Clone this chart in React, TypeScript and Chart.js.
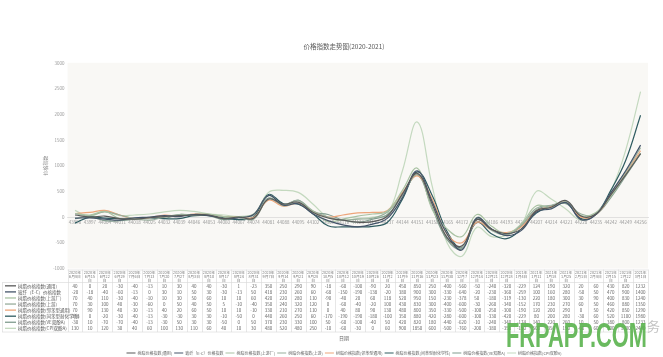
import React, { useEffect, useRef } from "react";
import { Chart, registerables } from "chart.js";

Chart.register(...registerables);

const FONT = "'Noto Sans CJK SC', 'Noto Sans', sans-serif";

// Category labels (Excel date serials shown on the axis)
const serials = [
  "43990", "43997", "44004", "44011", "44018", "44025", "44032", "44039", "44046", "44053",
  "44060", "44067", "44074", "44081", "44088", "44095", "44102", "44109", "44116", "44123",
  "44130", "44137", "44144", "44151", "44158", "44165", "44172", "44179", "44186", "44193",
  "44200", "44207", "44214", "44221", "44228", "44235", "44242", "44249", "44256",
];

// Data-table column headers
const dateHeaders = [
  "2020年6月8日", "2020年6月15日", "2020年6月22日", "2020年6月29日", "2020年7月6日",
  "2020年7月13日", "2020年7月20日", "2020年7月27日", "2020年8月3日", "2020年8月10日",
  "2020年8月17日", "2020年8月24日", "2020年8月31日", "2020年9月7日", "2020年9月14日",
  "2020年9月21日", "2020年9月28日", "2020年10月5日", "2020年10月12日", "2020年10月19日",
  "2020年10月26日", "2020年11月2日", "2020年11月9日", "2020年11月16日", "2020年11月23日",
  "2020年11月30日", "2020年12月7日", "2020年12月14日", "2020年12月21日", "2020年12月28日",
  "2021年1月4日", "2021年1月11日", "2021年1月18日", "2021年1月25日", "2021年2月1日",
  "2021年2月8日", "2021年2月15日", "2021年2月22日", "2021年3月1日",
];

const seriesNames = [
  "树脂价格指数(通用)",
  "玻纤（E-C）价格指数",
  "树脂价格指数(上游厂)",
  "树脂价格指数(上游)",
  "树脂价格指数(邻苯型通用)",
  "树脂价格指数(间苯型耐化学性)",
  "树脂价格指数(VE双酚A)",
  "树脂价格指数(CPI双酚A)",
];

const seriesColors = [
  "#595959",
  "#44546a",
  "#a9c2a3",
  "#98ad9c",
  "#eda57a",
  "#2f5c61",
  "#809c8e",
  "#c4d9bf",
];

const s1 = [40, 0, 20, -30, -40, -13, 10, 30, 40, 40, -30, 1, -23, 350, 250, 290, 90, -18, -60, -100, -90, 20, 450, 850, 250, -400, -560, -50, -240, -320, -229, 124, 190, 320, 20, 60, 430, 820, 1232];
const s2 = [-20, -18, -40, -60, -13, 0, 30, 10, 50, 30, -30, -13, 50, 418, 230, 260, 60, -68, -150, -190, -138, -20, 380, 900, 300, -330, -640, -20, -230, -360, -259, 100, 160, 280, -50, 50, 470, 900, 1400];
const s3 = [70, 40, 110, -30, -40, -10, 10, 30, 50, 60, 10, 10, 60, 420, 220, 280, 110, -90, -40, 20, 60, 118, 520, 950, 150, -230, -378, 50, -180, -319, -130, 220, 180, 300, 30, 90, 400, 830, 1240];
const s4 = [70, 30, 100, 40, -30, -60, 0, 50, 40, 50, 5, -10, -40, 350, 240, 320, 120, 0, -60, -40, -20, 100, 430, 830, 300, -400, -600, -30, -260, -340, -152, 170, 230, 270, 60, 50, 460, 880, 1350];
const s5 = [70, 90, 130, 40, -30, -13, 40, 20, 60, 50, 10, 10, -10, 330, 210, 270, 110, 0, 40, 80, 90, 130, 480, 800, 350, -330, -500, -100, -250, -300, -190, 120, 200, 290, 0, 50, 420, 850, 1290];
const s6 = [-118, 0, -20, -30, -40, -13, -30, -30, 30, 30, -10, -50, 0, 440, 260, 250, 60, -170, -190, -190, -180, -100, 350, 880, 420, -280, -600, -100, -330, -420, -229, 80, 200, 280, -30, 60, 520, 1100, 1980];
const s7 = [-30, 10, -70, -70, -40, -13, -30, 50, 30, 30, -50, 0, 50, 370, 230, 330, 100, 50, -60, -100, -40, 50, 420, 820, 180, -440, -620, -10, -240, -340, -174, 140, 220, 260, 10, 50, 380, 800, 1233];
const s8 = [130, 10, 120, 30, 40, 60, 100, 130, 110, 60, 40, 10, 30, 480, 520, 480, 250, -10, -60, -30, 0, 60, 900, 1850, 600, -500, -760, -200, -380, -350, -150, 500, 350, 150, -60, 60, 500, 1300, 2440];

const seriesData = [s1, s2, s3, s4, s5, s6, s7, s8];

const yTicksMin = -1000;
const yTicksMax = 3000;
const yTickStep = 500;

function wrapText(ctx: CanvasRenderingContext2D, text: string, maxW: number): string[] {
  const lines: string[] = [];
  let cur = "";
  for (const ch of Array.from(text)) {
    const t = cur + ch;
    if (ctx.measureText(t).width > maxW && cur.length > 0) {
      lines.push(cur);
      cur = ch;
    } else {
      cur = t;
    }
  }
  if (cur) lines.push(cur);
  return lines;
}

const plotBgPlugin = {
  id: "plotBg",
  beforeDraw(chart: any) {
    const { ctx, chartArea: a } = chart;
    ctx.save();
    ctx.fillStyle = "#f9f8f5";
    ctx.fillRect(a.left, a.top, a.right - a.left, a.bottom - a.top);
    ctx.restore();
  },
};

const tablePlugin = {
  id: "dataTable",
  afterDraw(chart: any) {
    const { ctx, chartArea } = chart;
    const xs = chart.scales.x;
    const n = serials.length;
    const cw = xs.getPixelForValue(1) - xs.getPixelForValue(0);
    const tLeft = xs.getPixelForValue(0) - cw / 2;
    const tRight = xs.getPixelForValue(n - 1) + cw / 2;
    const top = chartArea.bottom + 1;
    const headBottom = top + 13;
    const rowH = 6.07;
    const bottom = headBottom + rowH * seriesData.length + 1;

    ctx.save();
    ctx.strokeStyle = "#d6d6d6";
    ctx.lineWidth = 0.6;
    ctx.beginPath();
    for (let i = 0; i <= n; i++) {
      const x = Math.round(tLeft + i * cw) + 0.5;
      ctx.moveTo(x, top);
      ctx.lineTo(x, bottom);
    }
    ctx.moveTo(tLeft, top + 0.5);
    ctx.lineTo(tRight, top + 0.5);
    ctx.moveTo(2, headBottom);
    ctx.lineTo(tRight, headBottom);
    ctx.moveTo(2, bottom);
    ctx.lineTo(tRight, bottom);
    ctx.moveTo(2.5, headBottom);
    ctx.lineTo(2.5, bottom);
    ctx.stroke();

    // headers
    ctx.font = `3.8px ${FONT}`;
    ctx.fillStyle = "#777";
    ctx.textAlign = "center";
    ctx.textBaseline = "middle";
    dateHeaders.forEach((h, i) => {
      const lines = wrapText(ctx, h, cw - 1.2);
      const cx = xs.getPixelForValue(i);
      lines.forEach((ln, k) => ctx.fillText(ln, cx, top + 3 + k * 4.2));
    });

    // values
    ctx.font = `4.5px ${FONT}`;
    ctx.fillStyle = "#666";
    seriesData.forEach((arr, r) => {
      const cy = headBottom + rowH * (r + 0.5) + 0.3;
      arr.forEach((v, i) => {
        ctx.fillText(String(v), xs.getPixelForValue(i), cy);
      });
    });

    // row labels with legend keys
    ctx.textAlign = "left";
    ctx.fillStyle = "#595959";
    seriesNames.forEach((name, r) => {
      const cy = headBottom + rowH * (r + 0.5) + 0.3;
      ctx.strokeStyle = seriesColors[r];
      ctx.lineWidth = 1.3;
      ctx.beginPath();
      ctx.moveTo(5, cy);
      ctx.lineTo(16, cy);
      ctx.stroke();
      ctx.fillText(name, 18, cy);
    });

    // watermark
    const txt = "FRPAPP.COM";
    ctx.font = `bold 35px 'Liberation Sans', 'DejaVu Sans', sans-serif`;
    const mw = ctx.measureText(txt).width;
    ctx.save();
    ctx.translate(506, 347);
    ctx.scale(141 / mw, 1);
    ctx.fillStyle = "rgba(90, 178, 78, 0.9)";
    ctx.textBaseline = "alphabetic";
    ctx.fillText(txt, 0, 0);
    ctx.restore();
    ctx.font = `13px ${FONT}`;
    ctx.fillStyle = "rgba(170,170,170,0.7)";
    ctx.textBaseline = "alphabetic";
    ctx.fillText("务", 647, 331);
    ctx.restore();
  },
};

export default function App() {
  const ref = useRef<HTMLCanvasElement | null>(null);

  useEffect(() => {
    if (!ref.current) return;
    Chart.defaults.font.family = FONT;
    const chart = new Chart(ref.current, {
      type: "line",
      data: {
        labels: serials,
        datasets: seriesData.map((d, i) => ({
          label: seriesNames[i],
          data: d,
          borderColor: seriesColors[i],
          backgroundColor: seriesColors[i],
          borderWidth: 1.2,
          pointRadius: 0,
          tension: 0.4,
          fill: false,
        })),
      },
      options: {
        animation: false,
        responsive: false,
        devicePixelRatio: 1,
        layout: { padding: { left: 40, right: 15, top: 0, bottom: -8 } },
        plugins: {
          tooltip: { enabled: false },
          title: {
            display: true,
            text: "价格指数走势图(2020-2021)",
            color: "#595959",
            font: { size: 6.5, weight: "normal", family: FONT },
            padding: { top: 43, bottom: 12 },
          },
          legend: {
            position: "bottom",
            title: {
              display: true,
              text: "日期",
              color: "#666",
              font: { size: 5, family: FONT },
              padding: { top: 67, bottom: 7.5 },
            },
            labels: {
              usePointStyle: true,
              pointStyle: "line",
              pointStyleWidth: 9,
              boxHeight: 4,
              color: "#666",
              font: { size: 4, family: FONT },
              padding: 2,
            },
          },
        },
        scales: {
          x: {
            type: "category",
            offset: true,
            position: { y: 0 },
            grid: { display: false, drawTicks: false },
            border: { display: true, color: "#d0d0d0", width: 0.6 },
            ticks: {
              autoSkip: false,
              maxRotation: 0,
              minRotation: 0,
              color: "#999",
              font: { size: 4.5, family: FONT },
              padding: 3,
            },
          },
          y: {
            min: yTicksMin,
            max: yTicksMax,
            grid: { display: false, drawTicks: false },
            border: { display: false },
            ticks: {
              stepSize: yTickStep,
              color: "#999",
              font: { size: 4.5, family: FONT },
              padding: 3,
              callback: (v: any) => String(v),
            },
            title: {
              display: true,
              text: "价格指数",
              color: "#888",
              font: { size: 5, family: FONT },
              padding: 2,
            },
          },
        },
      },
      plugins: [plotBgPlugin, tablePlugin],
    });
    return () => chart.destroy();
  }, []);

  return (
    <div style={{ position: "absolute", left: 0, top: 0, width: 663, height: 357, background: "#fff" }}>
      <canvas ref={ref} width={663} height={357} style={{ display: "block" }} />
    </div>
  );
}
